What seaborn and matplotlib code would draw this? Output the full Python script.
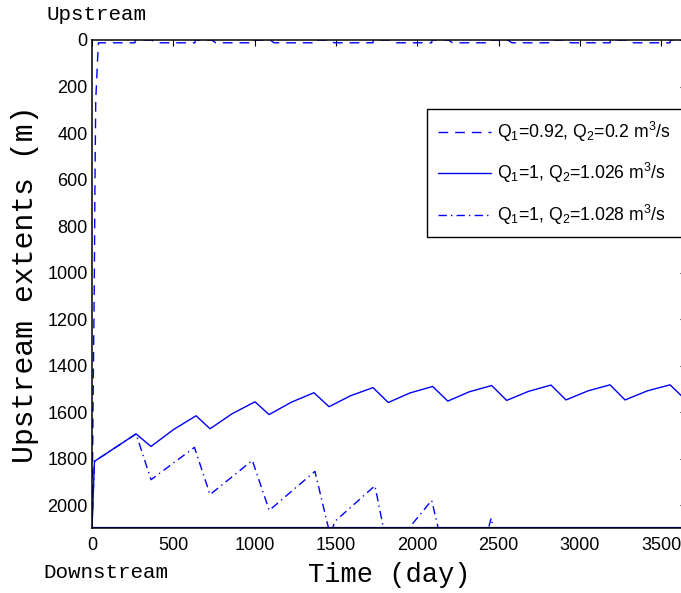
import matplotlib
matplotlib.use("Agg")
import matplotlib.pyplot as plt
from matplotlib.patches import Rectangle
import seaborn as sns
import pandas as pd

# ---------------- data ----------------
# Q1=0.92, Q2=0.2 m3/s (dashed)
dashed_t = [0, 6, 14, 18, 23, 35, 40,
            264, 266, 367, 392, 633, 635, 736, 761, 998, 1000, 1095, 1120,
            1359, 1361, 1464, 1489, 1728, 1730, 1833, 1858, 2089, 2091, 2192, 2217,
            2448, 2450, 2557, 2582, 2817, 2819, 2919, 2944, 3186, 3188, 3288, 3313,
            3555, 3557, 3650]
dashed_y = [2100, 1600, 1060, 630, 258, 73, 12,
            12, 0, 0, 12, 12, 0, 0, 12, 12, 0, 0, 12,
            12, 0, 0, 12, 12, 0, 0, 12, 12, 0, 0, 12,
            12, 0, 0, 12, 12, 0, 0, 12, 12, 0, 0, 12,
            12, 0, 0]

# Q1=1, Q2=1.026 m3/s (solid)
solid_t = [0, 15, 271, 363, 500, 640, 726, 860, 1002, 1089, 1225, 1365, 1458, 1590,
           1728, 1822, 1955, 2095, 2188, 2320, 2458, 2550, 2685, 2823, 2915, 3050,
           3186, 3278, 3415, 3555, 3650]
solid_y = [2100, 1812, 1694, 1748, 1676, 1616, 1672, 1608, 1556, 1611, 1558, 1517, 1577, 1530,
           1495, 1559, 1518, 1490, 1553, 1513, 1486, 1550, 1511, 1484, 1548, 1509,
           1483, 1548, 1509, 1483, 1547]

# Q1=1, Q2=1.028 m3/s (dash-dot)
dashdot_t = [0, 15, 271, 363, 630, 726, 986, 1090, 1371, 1465, 1494, 1740, 1830,
             1960, 2089, 2190, 2430, 2455, 2480, 2550]
dashdot_y = [2100, 1812, 1694, 1891, 1752, 1955, 1808, 2023, 1855, 2130, 2070, 1917, 2230,
             2090, 1980, 2280, 2120, 2056, 2140, 2380]

labels = ['Q$_1$=0.92, Q$_2$=0.2 m$^3$/s',
          'Q$_1$=1, Q$_2$=1.026 m$^3$/s',
          'Q$_1$=1, Q$_2$=1.028 m$^3$/s']
domain_length = 2100
x_ticks = [0, 500, 1000, 1500, 2000, 2500, 3000, 3500]
y_ticks = [0, 200, 400, 600, 800, 1000, 1200, 1400, 1600, 1800, 2000]

# ---------------- style ----------------
sns.set_theme(style="white")
plt.rcParams['font.family'] = ['Liberation Sans', 'DejaVu Sans']
plt.rcParams['mathtext.fontset'] = 'custom'
plt.rcParams['mathtext.rm'] = 'Liberation Sans'
plt.rcParams['mathtext.it'] = 'Liberation Sans:italic'
plt.rcParams['mathtext.bf'] = 'Liberation Sans:bold'
for key in ['text.color', 'axes.labelcolor', 'xtick.color', 'ytick.color',
            'xtick.labelcolor', 'ytick.labelcolor']:
    plt.rcParams[key] = 'black'

fig = plt.figure(figsize=(6.81, 5.93), dpi=100)
ax = fig.add_axes([92 / 681, 1 - 528.3 / 593, 593.5 / 681, (528.3 - 40) / 593])

series = [
    (dashed_t, dashed_y, labels[0], (7, 5)),
    (solid_t, solid_y, labels[1], None),
    (dashdot_t, dashdot_y, labels[2], (6, 3, 1, 3)),
]
for t, y, lab, dash in series:
    df = pd.DataFrame({'t': t, 'y': y})
    n_before = len(ax.lines)
    sns.lineplot(data=df, x='t', y='y', ax=ax, color='#0000ff', lw=1.0,
                 sort=False, estimator=None, label=lab)
    line = ax.lines[n_before]
    if dash is not None:
        line.set_dashes(dash)

ax.axhline(domain_length, color='#0000cc', lw=1.6, zorder=1)

ax.set_xlim(0, 3650)
ax.set_ylim(domain_length, 0)
ax.set_xticks(x_ticks)
ax.set_yticks(y_ticks)
ax.tick_params(axis='both', which='both', direction='in', length=4.5, width=0.8,
               labelsize=13, top=True, right=True, color='black', labelcolor='black')
ax.tick_params(axis='x', pad=6)
ax.tick_params(axis='y', pad=3)
for sp in ax.spines.values():
    sp.set_visible(True)
    sp.set_color('black')
    sp.set_linewidth(1.1)
    sp.set_zorder(5)

ax.set_xlabel('Time (day)', family='Liberation Mono', fontsize=19.5, labelpad=6,
              color='black')
ax.set_ylabel('Upstream extents (m)', family='Liberation Mono', fontsize=21.5, labelpad=6,
              color='black')

fig.text(47 / 681, 1 - 14 / 593, 'Upstream', family='Liberation Mono', fontsize=15,
         ha='left', va='center', color='black')
fig.text(43 / 681, 1 - 572 / 593, 'Downstream', family='Liberation Mono', fontsize=15,
         ha='left', va='center', color='black')

leg = ax.legend(loc='upper left', bbox_to_anchor=(427 / 681, 1 - 109 / 593),
                bbox_transform=fig.transFigure, fontsize=12.7,
                frameon=False, handlelength=3.0, labelcolor='black',
                handletextpad=0.35, labelspacing=1.0, borderpad=0.6, borderaxespad=0)
leg.set_zorder(10)

# legend frame running past the right edge of the figure, as in the reference
frame = Rectangle((427 / 681, 1 - 237 / 593), 300 / 681, 128 / 593,
                  transform=fig.transFigure, facecolor='white', edgecolor='black',
                  lw=1.0, zorder=9, clip_on=False)
ax.add_patch(frame)

fig.savefig('out.png', dpi=100)
